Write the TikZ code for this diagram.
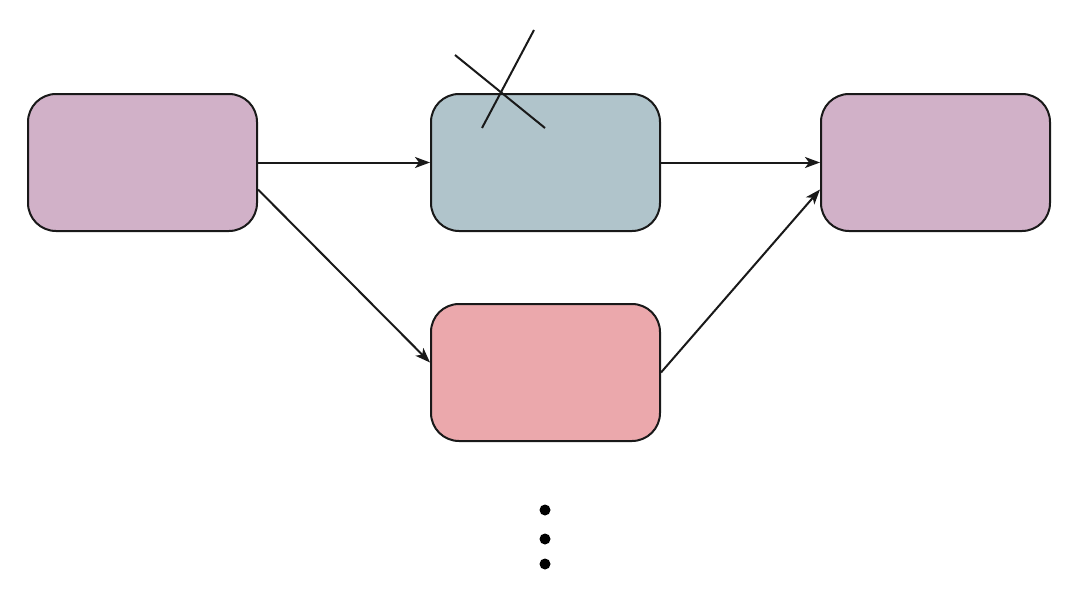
\documentclass[tikz,border=0pt]{standalone}
\usetikzlibrary{arrows.meta}
\definecolor{mauve}{HTML}{D1B1C8}
\definecolor{greyblue}{HTML}{B0C4CB}
\definecolor{rosepink}{HTML}{EBA8AC}
\begin{document}
\begin{tikzpicture}[x=1pt,y=-1pt,
  box/.style={draw=black!90, line width=2pt, rounded corners=28pt, minimum width=229pt, minimum height=137pt, inner sep=0pt},
  conn/.style={draw=black!90, line width=2pt, -{Stealth[length=15pt,width=11pt,inset=4pt]}},
  dotmark/.style={circle, fill=black, inner sep=0pt, minimum size=11pt}]
\useasboundingbox (0,0) rectangle (1080,597);
\node[box, fill=mauve] (a) at (142.5,162.5) {};
\node[box, fill=greyblue] (b) at (545.5,162.5) {};
\node[box, fill=mauve] (c) at (935.5,162.5) {};
\node[box, fill=rosepink] (d) at (545.5,372.5) {};
\draw[conn] (a.east) -- (b.west);
\draw[conn] (b.east) -- (c.west);
\draw[conn] ([yshift=-27pt]a.east) -- ([yshift=10pt]d.west);
\draw[conn] (d.east) -- ([yshift=-27pt]c.west);
\draw[black!90, line width=2pt] (455,55) -- (545,128);
\draw[black!90, line width=2pt] (534,30) -- (482,128);
\node[dotmark] (p1) at (545,510) {};
\node[dotmark] (p2) at (545,539) {};
\node[dotmark] (p3) at (545,564) {};
\end{tikzpicture}
\end{document}
